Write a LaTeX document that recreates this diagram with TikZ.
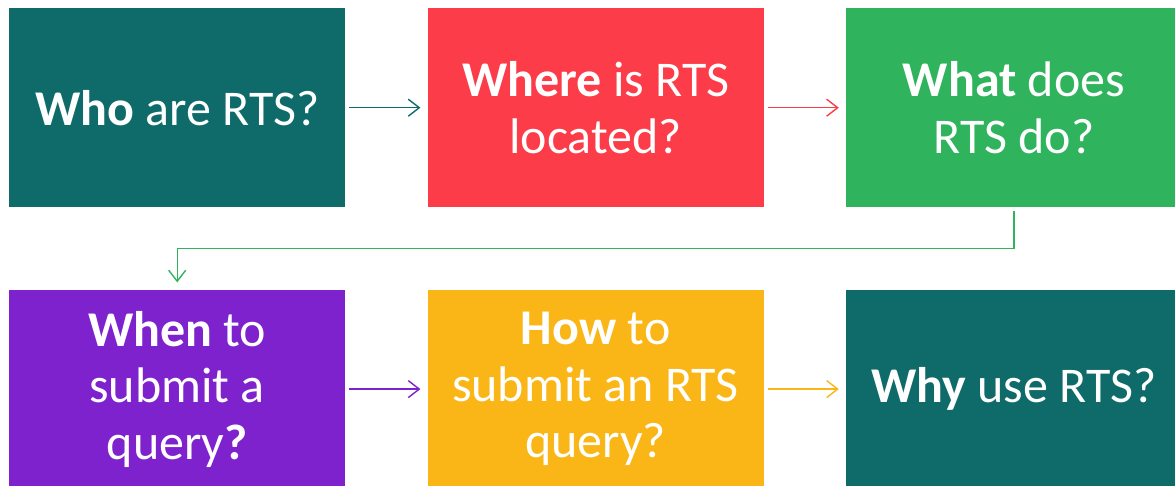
\documentclass[tikz,border=0pt]{standalone}
\usepackage{fontspec}
\setmainfont{Carlito}
\usetikzlibrary{positioning,arrows.meta}

\definecolor{rtsteal}{HTML}{0F6B69}
\definecolor{rtsred}{HTML}{FC3C48}
\definecolor{rtsgreen}{HTML}{30B35D}
\definecolor{rtspurple}{HTML}{7E22CE}
\definecolor{rtsyellow}{HTML}{FAB616}

\begin{document}
\begin{tikzpicture}[x=1pt, y=1pt,
	card/.style={rectangle, draw=none, fill=#1, text=white,
		minimum width=336pt, minimum height=199pt, inner sep=0pt,
		text centered, align=center, font=\fontsize{50}{56.5}\selectfont},
	link/.style={draw=#1, line width=1.4pt, shorten <=4pt, shorten >=7pt,
		-{Straight Barb[length=11pt,width=17pt]}}
	]
	\useasboundingbox (0,0) rectangle (1175,-486);
	% first row
	\node (who) [card=rtsteal, anchor=north west] at (9,-8) {\textbf{Who} are RTS?};
	\node (where) [card=rtsred, right=82pt of who] {\textbf{Where} is RTS\\located?};
	\node (what) [card=rtsgreen, right=82pt of where] {\textbf{What} does\\RTS do?};
	% second row
	\node (when) [card=rtspurple, below=82pt of who] {\textbf{When} to\\submit a\\query\textbf{?}};
	\node (how) [card=rtsyellow, right=82pt of when] {\textbf{How} to\\submit an RTS\\query?};
	\node (why) [card=rtsteal, right=82pt of how] {\textbf{Why} use RTS?};
	% arrows
	\draw[link=rtsteal] (who) -- (where);
	\draw[link=rtsred] (where) -- (what);
	\draw[link=rtsgreen] (what.south) -- ++(0,-41) -| (when.north);
	\draw[link=rtspurple] (when) -- (how);
	\draw[link=rtsyellow] (how) -- (why);
\end{tikzpicture}
\end{document}
